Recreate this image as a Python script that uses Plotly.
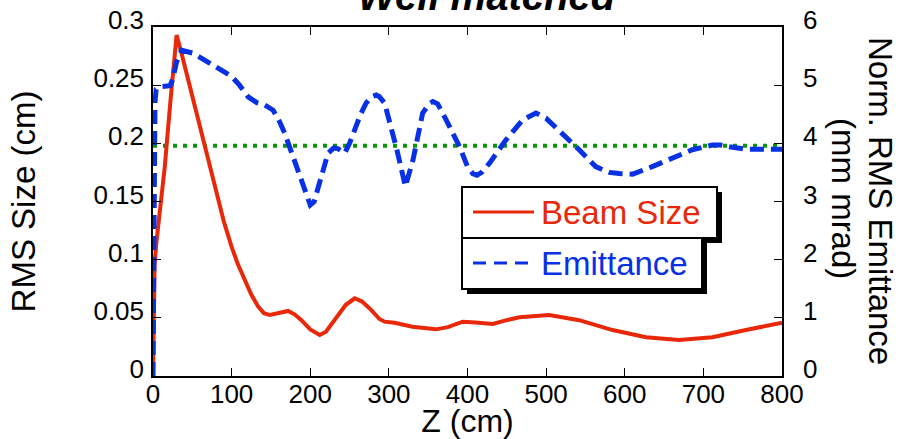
import plotly.graph_objects as go

# ---- data ----
z_beam = [0, 0.5, 1, 2, 4, 6, 9, 15, 22, 30, 36, 50, 60, 74.5, 82.7, 90, 100, 108, 116.8, 125,
          133.8, 141, 148.6, 160, 171.8, 180, 188.8, 200, 212, 220, 231, 245, 256.5, 266, 277.7,
          288, 294.6, 307, 330, 360, 375, 394, 410, 432, 450, 466, 504, 542, 584.5, 627, 669,
          711.5, 754, 800]
beam_size = [0, 0.04, 0.065, 0.095, 0.113, 0.125, 0.15, 0.18, 0.235, 0.293, 0.278, 0.24, 0.214,
             0.172, 0.151, 0.133, 0.111, 0.096, 0.0825, 0.07, 0.0596, 0.054, 0.0524, 0.054,
             0.0559, 0.053, 0.048, 0.04, 0.0352, 0.038, 0.048, 0.061, 0.0668, 0.064, 0.0567,
             0.049, 0.0467, 0.0458, 0.0424, 0.0401, 0.042, 0.0467, 0.046, 0.0447, 0.048, 0.0505,
             0.0524, 0.048, 0.0395, 0.0333, 0.031, 0.0333, 0.0395, 0.0458]

z_emit = [0, 0.5, 1, 1.5, 2.5, 4, 8, 21.6, 25, 30, 36.4, 51, 74.5, 100, 110, 121, 132, 142, 152.8,
          160, 167.6, 180, 193, 200, 205, 210, 216, 222.6, 230, 235, 243.8, 250, 256.5, 264, 271,
          278, 284, 288, 294.6, 303, 310, 321, 330.6, 343, 352, 356, 362, 373, 390, 400, 406.7,
          412, 418, 428, 449, 470, 487, 500, 521, 542, 563, 580, 593, 610, 635, 661, 686, 711.5,
          722, 733, 754, 788, 800]
emittance = [0, 1.5, 3.0, 4.0, 4.7, 4.93, 4.97, 4.99, 5.1, 5.40, 5.60, 5.55, 5.35, 5.15, 5.0, 4.80,
             4.7, 4.66, 4.57, 4.4, 4.17, 3.71, 3.20, 2.94, 3.0, 3.25, 3.55, 3.83, 3.92, 3.91, 3.83,
             4.0, 4.23, 4.5, 4.69, 4.8, 4.83, 4.80, 4.69, 4.29, 3.9, 3.26, 3.71, 4.52, 4.69, 4.72,
             4.68, 4.40, 3.94, 3.6, 3.48, 3.45, 3.5, 3.66, 4.06, 4.40, 4.52, 4.43, 4.17, 3.89, 3.60,
             3.5, 3.48, 3.47, 3.60, 3.74, 3.89, 3.97, 3.97, 3.94, 3.90, 3.90, 3.90]

z_ref = [0, 800]
ref_level = [0.198, 0.198]

x_ticks = [0, 100, 200, 300, 400, 500, 600, 700, 800]
y_ticks = [0, 0.05, 0.1, 0.15, 0.2, 0.25, 0.3]
y_tick_text = ["0", "0.05", "0.1", "0.15", "0.2", "0.25", "0.3"]
y2_ticks = [0, 1, 2, 3, 4, 5, 6]

RED = "rgb(232,40,8)"
BLUE = "rgb(8,48,228)"
GREEN = "rgb(10,150,10)"
FONT = "Liberation Sans, Arial, Helvetica, sans-serif"

fig = go.Figure()
fig.add_trace(go.Scatter(x=z_ref, y=ref_level, mode="lines", yaxis="y",
                         line=dict(color=GREEN, width=4, dash="4px,6px"), showlegend=False))
fig.add_trace(go.Scatter(x=z_emit, y=emittance, mode="lines", yaxis="y2", name="Emittance",
                         line=dict(color=BLUE, width=5, dash="14px,7px"), showlegend=False))
fig.add_trace(go.Scatter(x=z_beam, y=beam_size, mode="lines", yaxis="y", name="Beam Size",
                         line=dict(color=RED, width=4), showlegend=False))

# plot area in pixels: x 153..782, y 27..376
L, R, T, B = 153, 782, 27, 376
W, H = R - L, B - T


def px(x):
    return (x - L) / W


def py(y):
    return (B - y) / H


shapes = []
# legend boxes with drop shadows
for (x0, y0, x1, y1) in [(462, 187, 717, 238), (462, 238, 702, 289)]:
    shapes.append(dict(type="rect", xref="paper", yref="paper", layer="above",
                       x0=px(x0 + 5), x1=px(x1 + 5), y0=py(y1 + 5), y1=py(y0 + 5),
                       fillcolor="black", line=dict(width=0)))
    shapes.append(dict(type="rect", xref="paper", yref="paper", layer="above",
                       x0=px(x0), x1=px(x1), y0=py(y1), y1=py(y0),
                       fillcolor="white", line=dict(color="black", width=2)))
shapes.append(dict(type="line", xref="paper", yref="paper", layer="above",
                   x0=px(473), x1=px(534), y0=py(212), y1=py(212),
                   line=dict(color=RED, width=3)))
shapes.append(dict(type="line", xref="paper", yref="paper", layer="above",
                   x0=px(473), x1=px(536), y0=py(263), y1=py(263),
                   line=dict(color=BLUE, width=3, dash="13px,8px")))

annotations = [
    dict(text="Beam Size", xref="paper", yref="paper", x=px(539), y=py(212),
         xanchor="left", yanchor="middle", showarrow=False,
         font=dict(family=FONT, size=33, color=RED)),
    dict(text="Emittance", xref="paper", yref="paper", x=px(539), y=py(263),
         xanchor="left", yanchor="middle", showarrow=False,
         font=dict(family=FONT, size=33, color=BLUE)),
    dict(text="<b><i>Well matched</i></b>", xref="paper", yref="paper", x=px(487), y=py(-4),
         xanchor="center", yanchor="middle", showarrow=False,
         font=dict(family=FONT, size=40, color="black")),
    dict(text="Norm. RMS Emittance", xref="paper", yref="paper",
         x=px(881), y=py(201), xanchor="center", yanchor="middle", textangle=90,
         showarrow=False, font=dict(family=FONT, size=33, color="black")),
    dict(text="(mm mrad)", xref="paper", yref="paper",
         x=px(844), y=py(198), xanchor="center", yanchor="middle", textangle=90,
         showarrow=False, font=dict(family=FONT, size=33, color="black")),
]

axis_common = dict(showgrid=False, zeroline=False, showline=True, linecolor="black",
                   linewidth=1.5, ticks="inside", ticklen=8, tickcolor="black", tickwidth=1.2,
                   tickfont=dict(family=FONT, size=26, color="black"))

fig.update_layout(
    width=899, height=439,
    margin=dict(l=L, r=899 - R, t=T, b=439 - B, autoexpand=False),
    paper_bgcolor="white", plot_bgcolor="white",
    font=dict(family=FONT, color="black"),
    showlegend=False,
    xaxis=dict(range=[0, 800], tickvals=x_ticks, mirror="ticks", ticklabelstandoff=-6,
               title=dict(text="Z (cm)", font=dict(family=FONT, size=32), standoff=10),
               **axis_common),
    yaxis=dict(range=[0, 0.3], tickvals=y_ticks, ticktext=y_tick_text,
               ticklabelstandoff=2, ticklabelshift=-7,
               title=dict(text="RMS Size (cm)", font=dict(family=FONT, size=33), standoff=48),
               **axis_common),
    yaxis2=dict(range=[0, 6], tickvals=y2_ticks, overlaying="y", side="right",
                ticklabelstandoff=14, ticklabelshift=-7, **axis_common),
    shapes=shapes,
    annotations=annotations,
)

fig.write_html("out.html")
